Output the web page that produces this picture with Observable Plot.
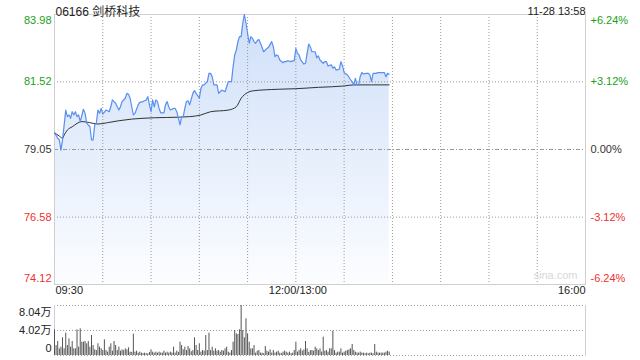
<!DOCTYPE html>
<html><head><meta charset="utf-8">
<script src="https://cdn.jsdelivr.net/npm/d3@7"></script>
<script src="https://cdn.jsdelivr.net/npm/@observablehq/plot@0.6"></script>
<style>
body{margin:0;background:#fff;}
#wrap{position:relative;width:640px;height:360px;overflow:hidden;}
#price{position:absolute;left:0;top:0;}
#vol{position:absolute;left:0;top:300px;}
</style></head><body><div id="wrap"><div id="price"></div><div id="vol"></div></div>
<script>
const title = "06166 剑桥科技";
const stamp = "11-28 13:58";
const prevClose = 79.05;
const leftTicks = [83.98, 81.52, 79.05, 76.58, 74.12];
const rightTicks = ["+6.24%", "+3.12%", "0.00%", "-3.12%", "-6.24%"];
const timeLabels = ["09:30", "12:00/13:00", "16:00"];
const volTickValues = [80400, 40200, 0];
const volTickLabels = ["8.04万", "4.02万", "0"];

const priceTimes = ["09:30","09:32","09:33","09:34","09:35","09:37","09:38","09:39","09:40","09:41","09:42","09:43","09:44","09:45","09:46","09:48","09:49","09:50","09:52","09:53","09:54","09:55","09:56","09:57","09:58","09:59","10:00","10:02","10:04","10:05","10:06","10:07","10:08","10:10","10:11","10:12","10:14","10:15","10:16","10:17","10:19","10:20","10:21","10:22","10:23","10:25","10:27","10:28","10:29","10:30","10:31","10:32","10:33","10:34","10:35","10:36","10:38","10:39","10:40","10:41","10:42","10:44","10:45","10:46","10:48","10:49","10:50","10:51","10:52","10:53","10:54","10:56","10:57","10:58","11:00","11:01","11:02","11:03","11:05","11:06","11:07","11:08","11:09","11:11","11:12","11:13","11:14","11:16","11:17","11:18","11:19","11:20","11:21","11:22","11:23","11:24","11:25","11:26","11:27","11:28","11:29","11:30","11:31","11:32","11:33","11:34","11:35","11:36","11:37","11:38","11:40","11:41","11:42","11:43","11:45","11:46","11:47","11:48","11:49","11:50","11:52","11:53","11:54","11:55","11:57","11:58","11:59","13:00","13:01","13:02","13:03","13:05","13:06","13:07","13:08","13:09","13:10","13:12","13:13","13:14","13:15","13:17","13:18","13:19","13:20","13:22","13:23","13:24","13:25","13:27","13:28","13:29","13:30","13:32","13:33","13:34","13:35","13:36","13:37","13:38","13:39","13:40","13:41","13:42","13:44","13:45","13:46","13:47","13:48","13:50","13:51","13:52","13:53","13:55","13:56","13:57","13:58"];
const priceValues = [79.66,79.46,79.40,79.03,79.40,80.49,80.25,80.31,80.19,80.43,80.31,80.43,80.25,80.31,80.07,80.52,80.37,80.01,79.88,79.40,79.40,79.95,80.01,80.49,80.37,80.55,80.34,80.49,80.43,80.61,80.86,80.80,80.74,80.49,80.61,80.80,80.92,81.10,81.07,80.92,80.31,80.37,80.52,80.68,80.77,80.80,80.86,80.98,80.68,80.43,80.86,80.61,80.86,80.80,80.55,80.39,80.39,80.68,80.80,80.61,80.49,80.55,80.55,80.43,79.95,80.25,80.25,80.55,80.80,80.83,80.68,81.10,81.20,81.10,80.92,81.28,81.41,81.41,81.53,81.83,81.83,81.71,81.41,81.41,81.10,81.16,81.22,81.16,81.34,81.53,81.53,81.53,82.07,82.50,82.68,82.99,83.17,83.17,83.66,83.98,83.66,83.29,82.93,83.17,83.11,82.99,82.93,83.02,83.07,82.93,82.62,82.68,82.74,82.78,82.99,82.80,82.44,82.50,82.47,82.32,82.22,82.26,82.26,82.29,82.26,82.29,82.29,82.74,82.56,82.50,82.32,82.17,82.20,82.56,82.90,82.80,82.62,82.62,82.40,82.47,82.32,82.20,82.26,82.26,82.10,82.14,82.02,82.07,81.95,81.98,82.26,82.10,81.86,81.77,81.69,81.59,81.53,81.41,81.65,81.41,81.41,81.71,81.86,81.81,81.83,81.83,81.77,81.53,81.83,81.83,81.86,81.86,81.86,81.86,81.71,81.83,81.80];

const avgTimes = ["09:30","09:33","09:35","09:36","09:38","09:41","09:47","09:52","09:57","10:03","10:10","10:18","10:25","10:54","11:01","11:07","11:18","11:23","11:26","11:30","11:33","11:49","13:00","13:14","13:30","13:36","13:58"];
const avgValues = [79.66,79.54,79.46,79.58,79.76,79.88,80.07,80.03,79.98,80.03,80.10,80.16,80.19,80.25,80.31,80.43,80.49,80.61,80.92,81.13,81.19,81.25,81.27,81.32,81.37,81.41,81.41];

// volume per trading minute from 09:30 (unit: 万股)
const volumeWan = [4.13,1.60,2.25,1.07,1.34,2.84,1.07,3.59,1.61,2.68,1.34,2.25,1.07,1.07,4.13,1.34,4.29,2.14,2.14,2.25,1.88,2.25,1.34,3.22,1.61,0.91,0.80,1.88,1.34,1.07,0.80,2.52,0.80,0.54,1.34,1.88,0.70,2.25,1.61,0.80,1.34,0.70,0.91,0.80,1.07,0.91,1.23,0.54,0.50,3.43,0.54,0.70,0.38,0.54,0.38,0.30,0.38,0.30,0.27,0.50,0.91,0.54,0.38,0.54,0.38,0.54,0.40,0.38,0.70,0.38,0.54,0.38,0.54,0.40,1.34,0.38,0.70,0.50,2.14,1.61,0.91,1.34,0.80,1.45,1.07,0.60,0.80,2.84,1.61,0.80,1.88,0.54,0.80,0.70,3.22,0.80,3.59,0.80,1.34,0.70,1.07,0.70,0.80,0.54,0.80,0.70,1.07,1.34,0.54,0.38,0.80,2.14,4.02,3.48,3.38,4.13,8.04,4.02,2.84,5.90,3.48,2.14,1.07,1.07,1.61,0.38,0.70,0.80,0.38,0.38,0.30,1.45,0.70,0.54,0.91,0.38,0.80,0.38,0.54,0.70,0.38,0.30,0.54,0.70,0.54,0.38,0.54,0.30,0.38,0.80,2.14,0.54,0.80,1.07,0.70,0.91,2.25,1.07,0.50,0.80,0.80,0.70,1.34,1.07,0.80,1.07,0.54,2.95,0.70,0.80,0.54,1.07,1.07,3.91,0.80,0.38,0.54,0.54,1.07,0.38,0.54,0.70,0.80,0.91,1.07,1.77,0.80,0.54,0.40,0.38,0.54,0.38,0.38,0.27,0.38,0.27,0.38,0.38,0.27,1.77,0.54,0.38,0.38,0.38,0.38,0.38,0.54,0.70,0.54];

function tIdx(s){const [h,m]=s.split(":").map(Number);const t=h*60+m;return t<780?t-570:t-780+150;}
const priceData = priceTimes.map((t,k)=>({i:tIdx(t), v:priceValues[k]}));
const avgData = avgTimes.map((t,k)=>({i:tIdx(t), v:avgValues[k]}));
const volData = volumeWan.map((v,k)=>({i:k, v:v*10000}));

const FONT = '"Liberation Sans", Arial, "Noto Sans CJK SC", sans-serif';
const GREEN = "#1a9f1a", RED = "#f03030", DARK = "#333";
const colorOf = v => v > prevClose ? GREEN : v < prevClose ? RED : DARK;
const grid30 = d3.range(30, 330, 30);
const yMin = leftTicks[4], yMax = leftTicks[0];

const lbl = leftTicks.map((v,k)=>({v, left: v.toFixed(2), right: rightTicks[k], c: colorOf(v), k}));
const mid = lbl.filter(d=>d.k>0 && d.k<4);
const top1 = lbl.filter(d=>d.k===0), bot1 = lbl.filter(d=>d.k===4);
const tickText = (data, dy) => [
  Plot.text(data,{y:"v", text:"left", frameAnchor:"left", textAnchor:"end", dx:-3, dy, fill:d=>d.c}),
  Plot.text(data,{y:"v", text:"right", frameAnchor:"right", textAnchor:"start", dx:5, dy, fill:d=>d.c})
];
const DOT = {stroke:"#999", strokeDasharray:"1,2", strokeWidth:1};

const pricePlot = Plot.plot({
  width:640, height:300, marginLeft:54, marginRight:55, marginTop:14, marginBottom:16,
  style:{fontFamily:FONT, fontSize:"11px", background:"transparent", overflow:"visible"},
  x:{domain:[0,330], axis:null},
  y:{domain:[yMin,yMax], axis:null},
  marks:[
    Plot.areaY(priceData,{x:"i", y1:()=>yMin, y2:"v", fill:"url(#pgrad)"}),
    Plot.ruleX(grid30, DOT),
    Plot.ruleY([leftTicks[1], leftTicks[3]], DOT),
    Plot.ruleY([prevClose],{stroke:"#999", strokeDasharray:"4,2,1,2"}),
    Plot.frame({stroke:"#cfcfcf"}),
    Plot.lineY(avgData,{x:"i", y:"v", stroke:"#333", strokeWidth:1, curve:"monotone-x"}),
    Plot.lineY(priceData,{x:"i", y:"v", stroke:"#5a8ff0", strokeWidth:1.2}),
    ...tickText(mid, 0), ...tickText(top1, 6), ...tickText(bot1, -6),
    Plot.text([title],{frameAnchor:"top-left", textAnchor:"start", dx:1, dy:-7, fill:"#222", fontSize:12}),
    Plot.text([stamp],{frameAnchor:"top-right", textAnchor:"end", dy:-7, fill:"#222"}),
    Plot.text([timeLabels[0]],{frameAnchor:"bottom-left", textAnchor:"start", dx:1, dy:9, fill:"#222"}),
    Plot.text([timeLabels[1]],{x:[150], frameAnchor:"bottom", textAnchor:"middle", dx:2, dy:9, fill:"#222"}),
    Plot.text([timeLabels[2]],{frameAnchor:"bottom-right", textAnchor:"end", dy:9, fill:"#222"}),
    Plot.text(["sina.com"],{frameAnchor:"bottom-right", textAnchor:"end", dx:-8, dy:-6, fill:"#d8d8d8"})
  ]
});
document.getElementById("price").appendChild(pricePlot);
const svgP = d3.select(pricePlot.tagName.toLowerCase()==="svg" ? pricePlot : pricePlot.querySelector("svg"));
const defs = svgP.insert("defs",":first-child");
const g = defs.append("linearGradient").attr("id","pgrad").attr("x1",0).attr("y1",0).attr("x2",0).attr("y2",1);
g.append("stop").attr("offset","0%").attr("stop-color","#cfdff9");
g.append("stop").attr("offset","100%").attr("stop-color","#fcfdff");

const vlbl = volTickValues.map((v,k)=>({v, t:volTickLabels[k], k}));
const volPlot = Plot.plot({
  width:640, height:60, marginLeft:54, marginRight:55, marginTop:5, marginBottom:5,
  style:{fontFamily:FONT, fontSize:"11px", background:"transparent", overflow:"visible"},
  x:{domain:[0,330], axis:null},
  y:{domain:[0, volTickValues[0]], axis:null},
  marks:[
    Plot.ruleY(volTickValues, DOT),
    Plot.frame({anchor:"left", stroke:"#cfcfcf"}),
    Plot.frame({anchor:"right", stroke:"#cfcfcf"}),
    Plot.ruleX(volData,{x:"i", y1:0, y2:"v", stroke:"#555", strokeWidth:1}),
    Plot.text(vlbl.filter(d=>d.k===0),{y:"v", text:"t", frameAnchor:"left", textAnchor:"end", dx:-3, dy:7, fill:"#222"}),
    Plot.text(vlbl.filter(d=>d.k===1),{y:"v", text:"t", frameAnchor:"left", textAnchor:"end", dx:-3, dy:0, fill:"#222"}),
    Plot.text(vlbl.filter(d=>d.k===2),{y:"v", text:"t", frameAnchor:"left", textAnchor:"end", dx:-3, dy:-7, fill:"#222"})
  ]
});
document.getElementById("vol").appendChild(volPlot);
</script></body></html>
